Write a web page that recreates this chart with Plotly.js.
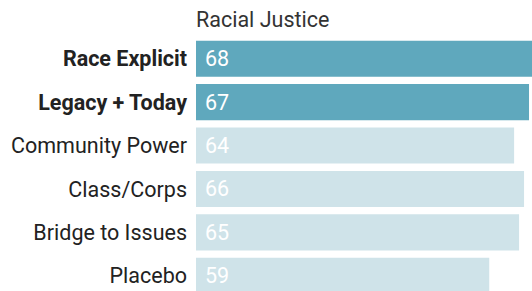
<!DOCTYPE html>
<html>
<head>
<meta charset="utf-8">
<script src="https://cdn.plot.ly/plotly-3.0.1.min.js"></script>
<style>
  html, body { margin: 0; padding: 0; background: #fff; }
  #chart { width: 532px; height: 291px; }
</style>
</head>
<body>
<div id="chart"></div>
<script>
const chartTitle = "Racial Justice";
const categories = ["Race Explicit", "Legacy + Today", "Community Power", "Class/Corps", "Bridge to Issues", "Placebo"];
const values = [68, 67, 64, 66, 65, 59];
const highlighted = [true, true, false, false, false, false];

const darkColor = "#5fa8bd";
const lightColor = "#cfe3e9";
const fontSize = 21.5;

const tickText = categories.map((c, i) => highlighted[i] ? "<b>" + c + "</b>" : c);
const barColors = highlighted.map(h => h ? darkColor : lightColor);

const trace = {
  type: "bar",
  orientation: "h",
  y: categories,
  x: values,
  marker: { color: barColors, line: { width: 0 } },
  hoverinfo: "none",
  width: 0.83
};

const annotations = categories.map((c, i) => ({
  x: 0, y: c, xref: "x", yref: "y",
  text: String(values[i]),
  showarrow: false,
  xanchor: "left", yanchor: "middle",
  xshift: 7,
  font: { family: "Roboto, sans-serif", size: fontSize, color: "#ffffff" }
}));

const layout = {
  width: 532, height: 291,
  margin: { l: 196, r: 0, t: 37, b: 0, pad: 0 },
  paper_bgcolor: "#ffffff",
  plot_bgcolor: "#ffffff",
  showlegend: false,
  title: {
    text: chartTitle,
    x: 0, xref: "paper", xanchor: "left",
    y: 1 - 19 / 291, yref: "container", yanchor: "middle",
    font: { family: "Roboto, sans-serif", size: fontSize, color: "#333333" }
  },
  xaxis: {
    range: [0, 67.6],
    visible: false,
    fixedrange: true
  },
  yaxis: {
    type: "category",
    range: [5.35, -0.5],
    tickvals: categories,
    ticktext: tickText,
    ticks: "",
    showline: false,
    showgrid: false,
    zeroline: false,
    ticklabelstandoff: 8,
    tickfont: { family: "Roboto, sans-serif", size: fontSize, color: "#222222" },
    fixedrange: true
  },
  annotations: annotations
};

Plotly.newPlot("chart", [trace], layout, { displayModeBar: false, staticPlot: true });
</script>
</body>
</html>
